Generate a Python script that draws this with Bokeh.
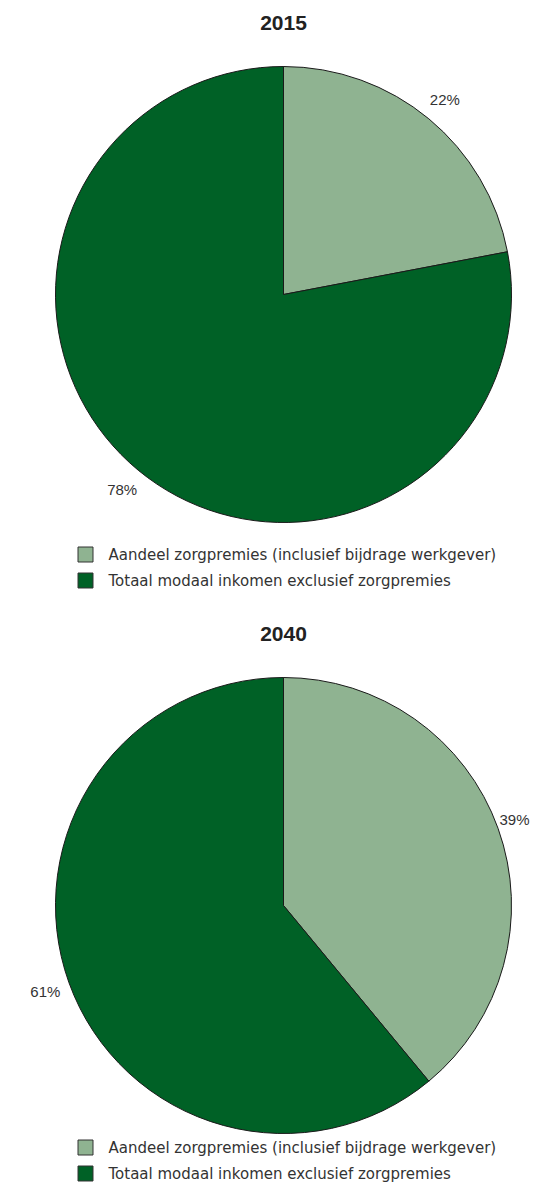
import math
from bokeh.plotting import figure
from bokeh.models import Range1d
from bokeh.core.properties import value
from bokeh.embed import file_html
from bokeh.resources import INLINE

# ---- data ----
years = ["2015", "2040"]
categories = ["Aandeel zorgpremies (inclusief bijdrage werkgever)",
              "Totaal modaal inkomen exclusief zorgpremies"]
shares_2015 = [22, 78]
shares_2040 = [39, 61]
colors = ["#8fb391", "#006126"]

FONT = "Liberation Sans"
LFONT = "DejaVu Sans"
W, H = 532, 1184

p = figure(width=W, height=H, output_backend="svg", toolbar_location=None,
           x_range=Range1d(0, W), y_range=Range1d(0, H),
           min_border=0, outline_line_color=None)
p.axis.visible = False
p.grid.visible = False
p.background_fill_color = "white"

def Y(py):  # picture pixel y -> data y
    return H - py

R = 228
cx = 283
# (year, shares, vertical offset, legend first row y)
blocks = [(years[0], shares_2015, 0, 554), (years[1], shares_2040, 611, 1147)]

for year, shares, off, leg_y in blocks:
    cy = 294 + off
    total = sum(shares)
    start = 90.0
    for i, s in enumerate(shares):
        end = start - 360.0 * s / total
        p.wedge(x=cx, y=Y(cy), radius=R, start_angle=math.radians(start),
                end_angle=math.radians(end), direction="clock",
                fill_color=colors[i], line_color="#1a1a1a", line_width=1)
        mid = math.radians((start + end) / 2)
        lr = R * 1.11
        lx = min(max(cx + lr * math.cos(mid), 18), W - 18)
        p.text(x=lx, y=Y(cy) + lr * math.sin(mid),
               text=[f"{s}%"], text_font=value(FONT), text_font_size="15px",
               text_color="#333333", text_align="center", text_baseline="middle")
        start = end
    # title
    p.text(x=cx, y=Y(22 + off), text=[year], text_font=value(FONT),
           text_font_size="21px", text_font_style="bold", text_color="#222222",
           text_align="center", text_baseline="middle")
    # legend
    for i, c in enumerate(categories):
        ly = leg_y + 26 * i
        p.rect(x=85, y=Y(ly), width=15, height=15, fill_color=colors[i],
               line_color="#333333", line_width=1)
        p.text(x=108, y=Y(ly), text=[c], text_font=value(LFONT),
               text_font_size="15px", text_color="#333333",
               text_align="left", text_baseline="middle")

open("out.html", "w").write(file_html(p, INLINE))
